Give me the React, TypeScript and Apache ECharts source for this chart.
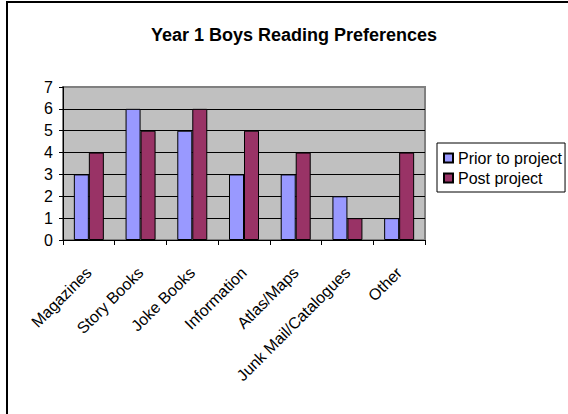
import React, { useEffect, useRef } from "react";
import * as echarts from "echarts";

const categories = [
  "Magazines",
  "Story Books",
  "Joke Books",
  "Information",
  "Atlas/Maps",
  "Junk Mail/Catalogues",
  "Other",
];
const priorValues = [3, 6, 5, 3, 3, 2, 1];
const postValues = [4, 5, 6, 5, 4, 1, 4];
const seriesNames = ["Prior to project", "Post project"];
const titleText = "Year 1 Boys Reading Preferences";

export default function App() {
  const ref = useRef<HTMLDivElement>(null);
  useEffect(() => {
    if (!ref.current) return;
    const chart = echarts.init(ref.current, null, { renderer: "svg" });
    const font = "Arial, 'Liberation Sans', sans-serif";
    chart.setOption({
      animation: false,
      backgroundColor: "#ffffff",
      textStyle: { fontFamily: font },
      title: {
        text: titleText,
        left: 289,
        textAlign: "center",
        top: 21,
        textStyle: { fontSize: 18, fontWeight: "bold", color: "#000", fontFamily: font },
      },
      graphic: [
        {
          type: "rect",
          shape: { x: 7, y: 2, width: 600, height: 500 },
          style: { fill: "none", stroke: "#000", lineWidth: 2 },
          silent: true,
        },
      ],
      legend: {
        orient: "vertical",
        left: 437,
        top: 143,
        padding: [7, 3, 6, 6],
        itemGap: 4,
        itemWidth: 9,
        itemHeight: 9,
        borderColor: "#000",
        borderWidth: 1,
        icon: "rect",
        textStyle: { fontSize: 16, color: "#000", fontFamily: font },
        data: seriesNames,
      },
      grid: {
        left: 63,
        right: 143,
        top: 87,
        bottom: 174,
        show: true,
        backgroundColor: "#C0C0C0",
        borderColor: "#808080",
        borderWidth: 2,
      },
      xAxis: {
        type: "category",
        data: categories,
        axisLine: { lineStyle: { color: "#000", width: 1 } },
        axisTick: { show: true, length: 5, lineStyle: { color: "#000" } },
        axisLabel: {
          rotate: 45,
          margin: 30,
          fontSize: 16,
          color: "#000",
          fontFamily: font,
          interval: 0,
        },
      },
      yAxis: {
        type: "value",
        min: 0,
        max: 7,
        interval: 1,
        axisLine: { show: true, lineStyle: { color: "#000", width: 1 } },
        axisTick: { show: true, length: 4, lineStyle: { color: "#000" } },
        axisLabel: { fontSize: 16, color: "#000", margin: 10, fontFamily: font },
        splitLine: {
          show: true,
          lineStyle: {
            color: ["#000", "#000", "#000", "#000", "#000", "#000", "#000", "#808080"],
            width: 1,
          },
        },
      },
      series: [
        {
          name: seriesNames[0],
          type: "bar",
          data: priorValues,
          barWidth: 15,
          barGap: "0%",
          itemStyle: { color: "#9999FF", borderColor: "#000", borderWidth: 1 },
        },
        {
          name: seriesNames[1],
          type: "bar",
          data: postValues,
          barWidth: 15,
          barGap: "0%",
          itemStyle: { color: "#993366", borderColor: "#000", borderWidth: 1 },
        },
      ],
    });
    return () => chart.dispose();
  }, []);
  return (
    <div
      ref={ref}
      style={{ position: "absolute", left: 0, top: 0, width: 568, height: 414, background: "#fff" }}
    />
  );
}
